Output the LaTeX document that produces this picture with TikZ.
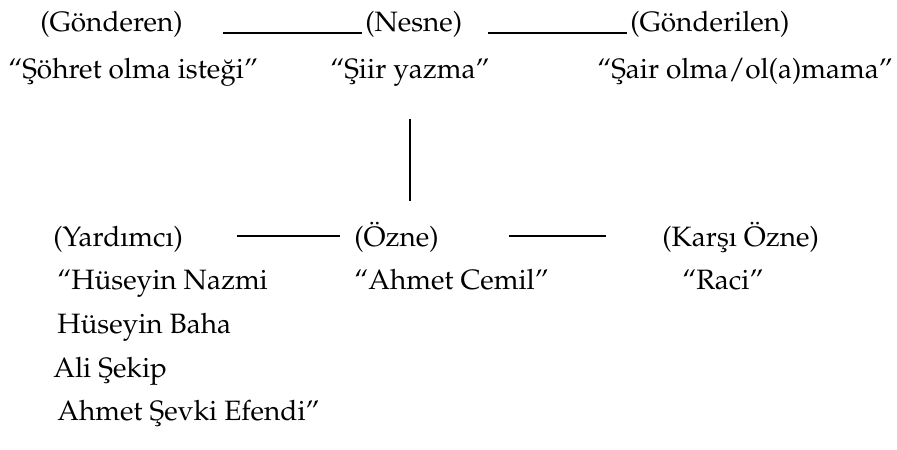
\documentclass[tikz,border=0pt]{standalone}
\usepackage[T1]{fontenc}
\usepackage{mathpazo}
\usetikzlibrary{calc}

\begin{document}
\begin{tikzpicture}[x=0.75pt,y=-0.75pt,
  every node/.style={inner sep=0pt,anchor=base west,font=\fontsize{21}{25}\selectfont}]
  \useasboundingbox (0,0) rectangle (897,450);

  % upper row
  \node (gonderen) at (40,31) {(G\"onderen)};
  \node (nesne) at (365,31) {(Nesne)};
  \node (gonderilen) at (630,31) {(G\"onderilen)};
  \node (sohret) at (8,78) {``\c{S}\"ohret olma iste\u{g}i''};
  \node (siir) at (330,78) {``\c{S}iir yazma''};
  \node (sair) at (597,78) {``\c{S}air olma/ol(a)mama''};

  \draw[line width=1.2pt] ([xshift=30pt,yshift=-1.5pt]gonderen.base east)--([xshift=-2pt,yshift=-1.5pt]nesne.base west);
  \draw[line width=1.2pt] ([xshift=19pt,yshift=-1.5pt]nesne.base east)--([xshift=-2pt,yshift=-1.5pt]gonderilen.base west);

  % lower row
  \node (yardimci) at (53,246) {(Yard\i mc\i)};
  \node (ozne) at (354,246) {(\"Ozne)};
  \node (karsi) at (662,246) {(Kar\c{s}\i\ \"Ozne)};
  \node (nazmi) at (57,289) {``H\"useyin Nazmi};
  \node (cemil) at (354,289) {``Ahmet Cemil''};
  \node (raci) at (682,289) {``Raci''};
  \node (baha) at (57,333) {H\"useyin Baha};
  \node (sekip) at (53,377) {Ali \c{S}ekip};
  \node (sevki) at (57,420) {Ahmet \c{S}evki Efendi''};

  \draw[line width=1.2pt] ([xshift=40pt,yshift=7.5pt]yardimci.base east)--([xshift=-10.5pt,yshift=7.5pt]ozne.base west);
  \draw[line width=1.2pt] ([xshift=52.5pt,yshift=7.5pt]ozne.base east)--([xshift=-42pt,yshift=7.5pt]karsi.base west);

  \draw[line width=1.2pt] ($(siir.south)+(0,-25pt)$)--($(siir.south |- ozne.north)+(0,15pt)$);
\end{tikzpicture}
\end{document}
